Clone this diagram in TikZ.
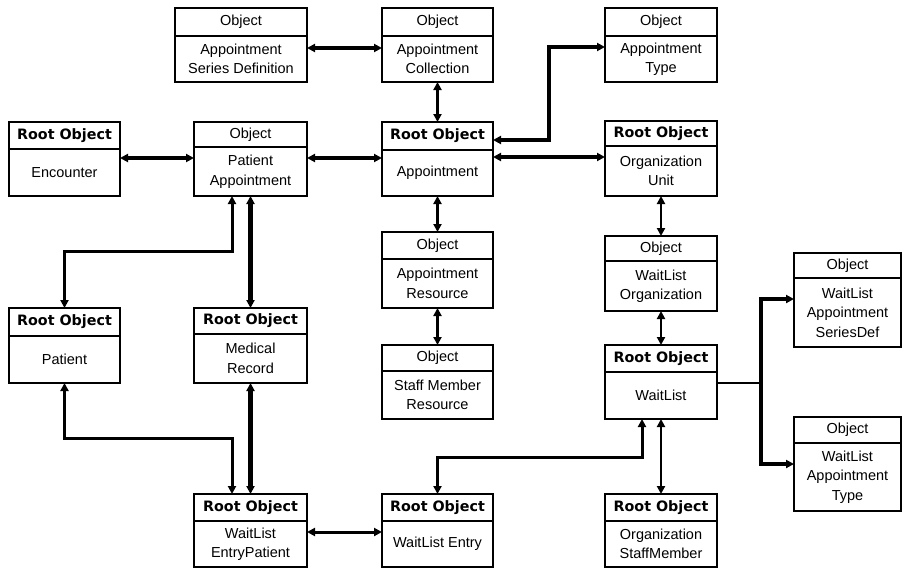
\documentclass[tikz,border=0pt]{standalone}
\usepackage{fontspec}
\setmainfont{Liberation Sans}
\newfontfamily\rootfont{DejaVu Sans}
\usetikzlibrary{arrows.meta,calc}

\newcommand\rootobj{{\rootfont\bfseries\fontsize{14.3}{17}\selectfont Root Object}}

% one object box: name, left x, top y, width, height, header height, header text, body text
\newcommand\objbox[8]{%
  \node[box, minimum width=#4pt, minimum height=#5pt] (#1) at (#2,#3) {};
  \draw[boxline] ([yshift=-#6pt]#1.north west) -- ([yshift=-#6pt]#1.north east);
  \node[hdr] (#1-h) at ([yshift=-#6pt/2]#1.north) {#7};
  \node[bodytxt] (#1-b) at ($([yshift=-#6pt]#1.north)!0.5!(#1.south)$) {#8};
}

\tikzset{
  box/.style={draw, line width=1.3pt, inner sep=0pt, outer sep=0pt, anchor=north west, fill=white},
  boxline/.style={line width=1.3pt},
  hdr/.style={inner sep=0pt, font=\fontsize{14.5}{17}\selectfont},
  bodytxt/.style={inner sep=0pt, align=center, font=\fontsize{14.5}{19.5}\selectfont},
  tipm/.tip={Triangle[length=8pt,width=8pt]},
  link/.style={{tipm}-{tipm}, line width=#1pt},
  link/.default=3,
  oneway/.style={-{tipm}, line width=#1pt},
  plain/.style={line width=#1pt},
}

\begin{document}
\begin{tikzpicture}[x=1pt,y=-1pt]
\useasboundingbox (0,0) rectangle (902,568);
\fill[white] (0,0) rectangle (902,568);

% top row
\objbox{asd}{175}{8}{132}{74}{28}{Object}{Appointment\\Series Definition}
\objbox{ac}{382}{8}{111}{74}{28}{Object}{Appointment\\Collection}
\objbox{at}{605}{8}{112}{74}{28}{Object}{Appointment\\Type}

% second row
\objbox{enc}{9}{122}{111}{74}{27}{\rootobj}{Encounter}
\objbox{pa}{194}{122}{113}{74}{25}{Object}{Patient\\Appointment}
\objbox{appt}{382}{122}{111}{74}{28}{\rootobj}{Appointment}
\objbox{ou}{605}{121}{112}{75}{25}{\rootobj}{Organization\\Unit}

% middle rows
\objbox{ar}{382}{232}{111}{76}{27}{Object}{Appointment\\Resource}
\objbox{smr}{382}{345}{111}{74}{26}{Object}{Staff Member\\Resource}
\objbox{wlo}{605}{236}{112}{75}{25}{Object}{WaitList\\Organization}
\objbox{wl}{605}{345}{112}{74}{27}{\rootobj}{WaitList}
\objbox{pat}{9}{308}{111}{75}{28}{\rootobj}{Patient}
\objbox{mr}{194}{308}{113}{75}{26}{\rootobj}{Medical\\Record}
\objbox{wlasd}{794}{253}{107}{94}{25}{Object}{WaitList\\Appointment\\SeriesDef}
\objbox{wlat}{794}{417}{107}{94}{26}{Object}{WaitList\\Appointment\\Type}

% bottom row
\objbox{wlep}{194}{494}{113}{73}{27}{\rootobj}{WaitList\\EntryPatient}
\objbox{wle}{382}{494}{111}{73}{27}{\rootobj}{WaitList Entry}
\objbox{osm}{605}{494}{112}{73}{27}{\rootobj}{Organization\\StaffMember}

% routing points
\coordinate (r1) at (0,48);
\coordinate (r2) at (0,158);
\coordinate (r3) at (549,140);
\coordinate (r4) at (549,47);
\coordinate (r5) at (0,157);
\coordinate (j)  at (761,383);
\coordinate (r6) at (0,299);
\coordinate (r7) at (0,464);
\coordinate (r8) at (642,457);
\coordinate (r9) at (0,532);
\coordinate (r10) at (232,251);
\coordinate (r11) at (232,438);

% connectors
\draw[link=3.5] (asd.east |- r1) -- (ac.west |- r1);
\draw[link=3.5] (enc.east |- r2) -- (pa.west |- r2);
\draw[link=3.5] (pa.east |- r2) -- (appt.west |- r2);
\draw[link=2.5] (ac.south) -- (appt.north);
\draw[link=4.5] (appt.east |- r3) -- (r3) -- (r4) -- (at.west |- r4);
\draw[link=3.5] (appt.east |- r5) -- (ou.west |- r5);
\draw[link=2.5] (appt.south) -- (ar.north);
\draw[link=2.5] (ar.south) -- (smr.north);
\draw[link=2.5] (ou.south) -- (wlo.north);
\draw[link=2.5] (wlo.south) -- (wl.north);
\draw[link=2.5] (wl.south) -- (osm.north);

\draw[plain=2.5] (wl.east |- j) -- (j);
\draw[oneway=4.5] (j) |- (wlasd.west |- r6);
\draw[oneway=4.5] (j) |- (wlat.west |- r7);

\draw[link=3] (wle.north) |- (r8) -- (wl.south -| r8);
\draw[link=3] (wlep.east |- r9) -- (wle.west |- r9);
\draw[link=3] (pa.south -| r10) |- (pat.north |- r10) -- (pat.north);
\draw[link=4.5] (pa.south) -- (mr.north);
\draw[link=3] (pat.south) |- (r11) -- (wlep.north -| r11);
\draw[link=4.5] (mr.south) -- (wlep.north);
\end{tikzpicture}
\end{document}
